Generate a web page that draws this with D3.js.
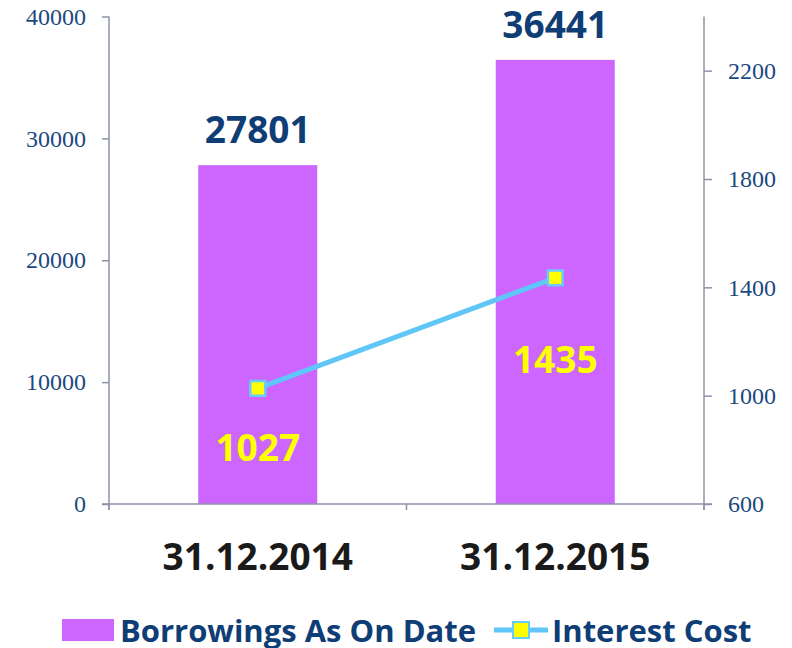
<!DOCTYPE html>
<html>
<head>
<meta charset="utf-8">
<script src="https://cdn.jsdelivr.net/npm/d3@7"></script>
<style>
  body { margin: 0; background: #fff; }
</style>
</head>
<body>
<div id="chart"></div>
<script>
var dates = ["31.12.2014", "31.12.2015"];
var borrowings = [27801, 36441];
var interestCost = [1027, 1435];
var leftTicks = [0, 10000, 20000, 30000, 40000];
var rightTicks = [600, 1000, 1400, 1800, 2200];

var W = 792, H = 648;
var margin = {top: 16.5, right: 88, bottom: 144, left: 109},
    width = W - margin.left - margin.right,
    height = H - margin.top - margin.bottom;

var axisColor = "#8c93a8", tickText = "#1b4a7e", labelBlue = "#0f3d75";

var svg = d3.select("#chart")
  .append("svg")
    .attr("width", W)
    .attr("height", H)
  .append("g")
    .attr("transform", "translate(" + margin.left + "," + margin.top + ")");

var x = d3.scaleBand()
  .domain(dates)
  .range([0, width])
  .paddingInner(0.6)
  .paddingOuter(0.3);

var y = d3.scaleLinear().domain([0, 40000]).range([height, 0]);
var y2 = d3.scaleLinear().domain([600, 2400]).range([height, 0]);

// left axis
var gl = svg.append("g")
  .call(d3.axisLeft(y).tickValues(leftTicks).tickFormat(d3.format("d")).tickSize(7).tickPadding(16));
gl.select(".domain").remove();
gl.selectAll("line").attr("stroke", axisColor).attr("stroke-width", 1.5);
gl.selectAll("text")
  .style("font-family", "'Liberation Serif', 'Times New Roman', serif")
  .style("font-size", "24px")
  .attr("fill", tickText);
svg.append("line")
  .attr("x1", 0).attr("x2", 0).attr("y1", 0).attr("y2", height + 6)
  .attr("stroke", axisColor).attr("stroke-width", 1.5);

// right axis
var gr = svg.append("g")
  .attr("transform", "translate(" + width + ",0)")
  .call(d3.axisRight(y2).tickValues(rightTicks).tickFormat(d3.format("d")).tickSize(8).tickPadding(16));
gr.select(".domain").remove();
gr.selectAll("line").attr("stroke", axisColor).attr("stroke-width", 1.5);
gr.selectAll("text")
  .style("font-family", "'Liberation Serif', 'Times New Roman', serif")
  .style("font-size", "24px")
  .attr("fill", tickText);
svg.append("line")
  .attr("x1", width).attr("x2", width).attr("y1", 0).attr("y2", height + 6)
  .attr("stroke", axisColor).attr("stroke-width", 1.5);

// bars
svg.selectAll(".bar")
  .data(borrowings)
  .enter()
  .append("rect")
    .attr("x", function(d, i) { return x(dates[i]); })
    .attr("y", function(d) { return y(d); })
    .attr("width", x.bandwidth())
    .attr("height", function(d) { return height - y(d); })
    .style("fill", "#cc66ff");

// baseline + category separators
svg.append("line")
  .attr("x1", -7).attr("x2", width + 8).attr("y1", height).attr("y2", height)
  .attr("stroke", axisColor).attr("stroke-width", 1.5);
svg.selectAll(".sep")
  .data([0, 1, 2])
  .enter()
  .append("line")
    .attr("x1", function(d) { return d * width / 2; })
    .attr("x2", function(d) { return d * width / 2; })
    .attr("y1", height).attr("y2", height + 6)
    .attr("stroke", axisColor).attr("stroke-width", 1.5);

// category labels
var gx = svg.append("g")
  .attr("transform", "translate(0," + height + ")")
  .call(d3.axisBottom(x).tickSize(0).tickPadding(40));
gx.select(".domain").remove();
gx.selectAll("text")
  .style("font-family", "'Open Sans', sans-serif")
  .style("font-weight", "bold")
  .style("font-size", "37px")
  .attr("fill", "#1a1a1a");

// bar value labels
svg.selectAll(".blabel")
  .data(borrowings)
  .enter()
  .append("text")
    .attr("x", function(d, i) { return x(dates[i]) + x.bandwidth() / 2; })
    .attr("y", function(d) { return y(d) - 22; })
    .attr("text-anchor", "middle")
    .style("font-family", "'Open Sans', sans-serif")
    .style("font-weight", "bold")
    .style("font-size", "37px")
    .attr("fill", labelBlue)
    .text(function(d) { return d; });

// interest line
var cx = function(d, i) { return x(dates[i]) + x.bandwidth() / 2; };
var line = d3.line()
  .x(function(d, i) { return cx(d, i); })
  .y(function(d) { return y2(d); });
svg.append("path")
  .datum(interestCost)
  .attr("d", line)
  .attr("fill", "none")
  .attr("stroke", "#5fc6f7")
  .attr("stroke-width", 5);

svg.selectAll(".pt")
  .data(interestCost)
  .enter()
  .append("path")
    .attr("d", d3.symbol().type(d3.symbolSquare).size(220))
    .attr("transform", function(d, i) { return "translate(" + cx(d, i) + "," + y2(d) + ")"; })
    .style("fill", "#ffff00")
    .style("stroke", "#66ccff")
    .style("stroke-width", 2.5);

var labelDy = [73, 95];
svg.selectAll(".ilabel")
  .data(interestCost)
  .enter()
  .append("text")
    .attr("x", function(d, i) { return cx(d, i); })
    .attr("y", function(d, i) { return y2(d) + labelDy[i]; })
    .attr("text-anchor", "middle")
    .style("font-family", "'Open Sans', sans-serif")
    .style("font-weight", "bold")
    .style("font-size", "37px")
    .attr("fill", "#ffff00")
    .text(function(d) { return d; });

// legend
var leg = d3.select("svg").append("g").attr("transform", "translate(0,630)");
var legFont = function(s) {
  s.style("font-family", "'Open Sans', sans-serif")
   .style("font-weight", "bold")
   .style("font-size", "31px")
   .attr("fill", labelBlue)
   .attr("dominant-baseline", "central");
};
leg.append("rect")
  .attr("x", 62).attr("y", -11).attr("width", 52).attr("height", 22)
  .style("fill", "#cc66ff");
leg.append("text").attr("x", 120).attr("y", 0).text("Borrowings As On Date").call(legFont);
leg.append("line")
  .attr("x1", 494).attr("x2", 548).attr("y1", 0).attr("y2", 0)
  .attr("stroke", "#5fc6f7").attr("stroke-width", 5);
leg.append("rect")
  .attr("x", 513).attr("y", -8).attr("width", 16).attr("height", 16)
  .style("fill", "#ffff00").style("stroke", "#66ccff").style("stroke-width", 2);
leg.append("text").attr("x", 552).attr("y", 0).text("Interest Cost").call(legFont);
</script>
</body>
</html>
